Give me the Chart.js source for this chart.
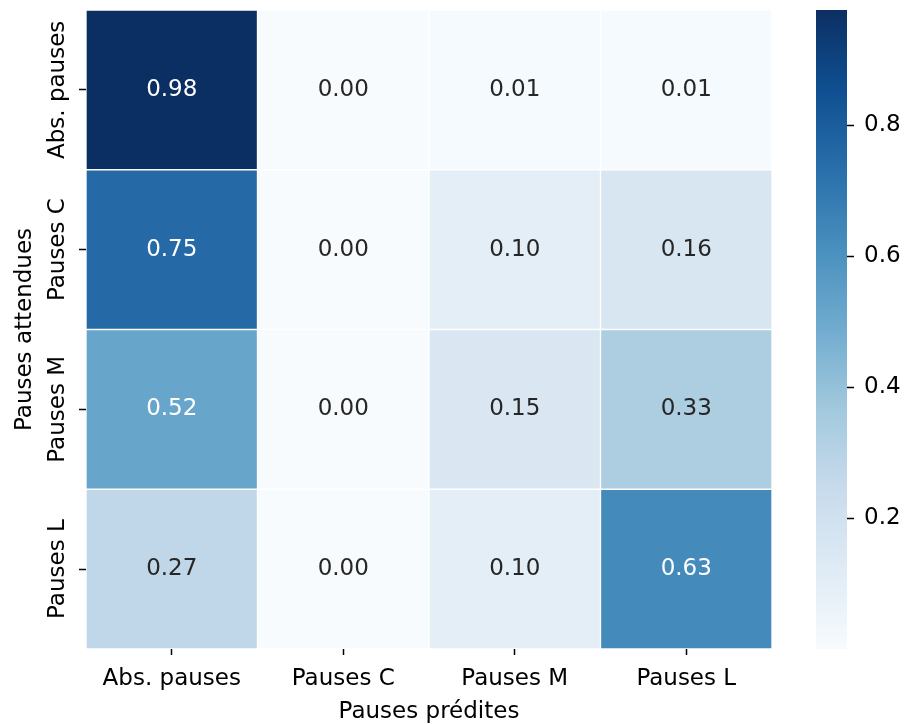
<!DOCTYPE html>
<html>
<head>
<meta charset="utf-8">
<script src="https://cdn.jsdelivr.net/npm/chart.js@4/dist/chart.umd.min.js"></script>
<style>
  body { margin: 0; background: #fff; }
  #wrap { position: relative; width: 904px; height: 724px; }
  #wrap canvas { position: absolute; left: 0; top: 0; }
</style>
</head>
<body>
<div id="wrap">
  <canvas id="heatmap" width="904" height="724"></canvas>
  <canvas id="colorbar" width="904" height="724"></canvas>
</div>
<script>
// categories
const predLabels = ['Abs. pauses', 'Pauses C', 'Pauses M', 'Pauses L'];
const trueLabels = ['Abs. pauses', 'Pauses C', 'Pauses M', 'Pauses L'];

// one row of the matrix per expected class
const rowAbs = [0.98, 0.00, 0.01, 0.01];
const rowC   = [0.75, 0.00, 0.10, 0.16];
const rowM   = [0.52, 0.00, 0.15, 0.33];
const rowL   = [0.27, 0.00, 0.10, 0.63];
const rows = [rowAbs, rowC, rowM, rowL];

// colour scale range and colorbar ticks
const colorMin = 0.0;
const colorMax = 0.976;
const cbarTicks = [0.2, 0.4, 0.6, 0.8];

// matplotlib "Blues", slightly muted like the picture
const bluesHex = ['#f7fbff', '#deebf7', '#c6dbef', '#9ecae1', '#6baed6', '#4292c6', '#2171b5', '#08519c', '#08306b'];
const MUTE = 0.12;

const FONT = "'DejaVu Sans', sans-serif";

function hexToRgb(h) {
  const c = [1, 3, 5].map(i => parseInt(h.slice(i, i + 2), 16));
  const grey = 0.299 * c[0] + 0.587 * c[1] + 0.114 * c[2];
  return c.map(v => v + (grey - v) * MUTE);
}
const blues = bluesHex.map(hexToRgb);

function bluesRgb(v) {
  let t = (v - colorMin) / (colorMax - colorMin);
  t = Math.min(1, Math.max(0, t));
  const pos = t * (blues.length - 1);
  const i = Math.min(Math.floor(pos), blues.length - 2);
  const f = pos - i;
  const a = blues[i], b = blues[i + 1];
  return a.map((c, k) => Math.round(c + (b[k] - c) * f));
}

function toCss(c) {
  return 'rgb(' + c.map(Math.round).join(',') + ')';
}

function bluesColor(v) {
  return toCss(bluesRgb(v));
}

// seaborn picks white or dark text from the cell luminance
function textColor(v) {
  const lin = bluesRgb(v).map(c => {
    c = c / 255;
    return c <= 0.03928 ? c / 12.92 : Math.pow((c + 0.055) / 1.055, 2.4);
  });
  const lum = 0.2126 * lin[0] + 0.7152 * lin[1] + 0.0722 * lin[2];
  return lum > 0.408 ? '#262626' : '#ffffff';
}

const annotatePlugin = {
  id: 'annotate',
  afterDatasetsDraw(chart) {
    const ctx = chart.ctx;
    const xs = chart.scales.x, ys = chart.scales.y;
    ctx.save();
    ctx.font = '23px ' + FONT;
    ctx.textAlign = 'center';
    ctx.textBaseline = 'middle';
    rows.forEach((vals, r) => {
      vals.forEach((v, c) => {
        ctx.fillStyle = textColor(v);
        ctx.fillText(v.toFixed(2), xs.getPixelForValue(c), ys.getPixelForValue(r + 0.5));
      });
    });
    ctx.restore();
  }
};

// vertical row labels on the left axis
const rowLabelPlugin = {
  id: 'rowLabels',
  afterDraw(chart) {
    const ctx = chart.ctx;
    const ys = chart.scales.y;
    ctx.save();
    ctx.font = '23px ' + FONT;
    ctx.fillStyle = '#000';
    ctx.textAlign = 'center';
    ctx.textBaseline = 'alphabetic';
    trueLabels.forEach((lab, i) => {
      ctx.save();
      ctx.translate(64, ys.getPixelForValue(i + 0.5));
      ctx.rotate(-Math.PI / 2);
      ctx.fillText(lab, 0, 0);
      ctx.restore();
    });
    ctx.restore();
  }
};

new Chart(document.getElementById('heatmap'), {
  type: 'bar',
  data: {
    labels: predLabels,
    datasets: rows.map((vals, r) => ({
      label: trueLabels[r],
      data: vals.map(() => [r, r + 1]),
      backgroundColor: vals.map(v => bluesColor(v)),
      borderColor: '#ffffff',
      borderWidth: 1,
      borderSkipped: false,
      grouped: false,
      barPercentage: 1,
      categoryPercentage: 1
    }))
  },
  options: {
    responsive: false,
    devicePixelRatio: 1,
    animation: false,
    events: [],
    layout: { padding: { top: 10, right: 132, left: 0, bottom: 0 } },
    plugins: { legend: { display: false }, tooltip: { enabled: false } },
    scales: {
      x: {
        type: 'category',
        border: { display: false },
        grid: { offset: false, drawOnChartArea: false, drawTicks: true, tickLength: 6, tickWidth: 1.5, tickColor: '#000' },
        ticks: { color: '#000', font: { family: FONT, size: 23 }, padding: 10, autoSkip: false, maxRotation: 0 },
        title: { display: true, text: 'Pauses prédites', color: '#000', font: { family: FONT, size: 23, lineHeight: 1.05 }, padding: { top: 0, bottom: 0 } },
        afterFit: s => { s.height = 75; }
      },
      y: {
        type: 'linear',
        min: 0,
        max: 4,
        reverse: true,
        border: { display: false },
        afterBuildTicks: s => { s.ticks = trueLabels.map((_, i) => ({ value: i + 0.5 })); },
        grid: { drawOnChartArea: false, drawTicks: true, tickLength: 7, tickWidth: 1.5, tickColor: '#000' },
        ticks: { display: false },
        title: { display: true, text: 'Pauses attendues', color: '#000', font: { family: FONT, size: 23 }, padding: { top: 11, bottom: 0 } },
        afterFit: s => { s.width = 86; }
      }
    }
  },
  plugins: [annotatePlugin, rowLabelPlugin]
});

// colour bar
new Chart(document.getElementById('colorbar'), {
  type: 'bar',
  data: {
    labels: [''],
    datasets: [{
      data: [[colorMin, colorMax]],
      backgroundColor: ctx => {
        const chart = ctx.chart;
        if (!chart.chartArea) return toCss(blues[4]);
        const ys = chart.scales.y;
        const g = chart.ctx.createLinearGradient(0, ys.getPixelForValue(colorMin), 0, ys.getPixelForValue(colorMax));
        blues.forEach((c, i) => g.addColorStop(i / (blues.length - 1), toCss(c)));
        return g;
      },
      borderWidth: 0,
      barPercentage: 1,
      categoryPercentage: 1
    }]
  },
  options: {
    responsive: false,
    devicePixelRatio: 1,
    animation: false,
    events: [],
    layout: { padding: { top: 10, right: 0, left: 816, bottom: 75 } },
    plugins: { legend: { display: false }, tooltip: { enabled: false } },
    scales: {
      x: { display: false },
      y: {
        position: 'right',
        min: colorMin,
        max: colorMax,
        border: { display: false },
        afterBuildTicks: s => { s.ticks = cbarTicks.map(v => ({ value: v })); },
        grid: { drawOnChartArea: false, drawTicks: true, tickLength: 7, tickWidth: 1.5, tickColor: '#000' },
        ticks: { color: '#000', font: { family: FONT, size: 23 }, padding: 10, callback: v => v.toFixed(1) },
        afterFit: s => { s.width = 57; s.paddingTop = 0; s.paddingBottom = 0; }
      }
    }
  }
});
</script>
</body>
</html>
